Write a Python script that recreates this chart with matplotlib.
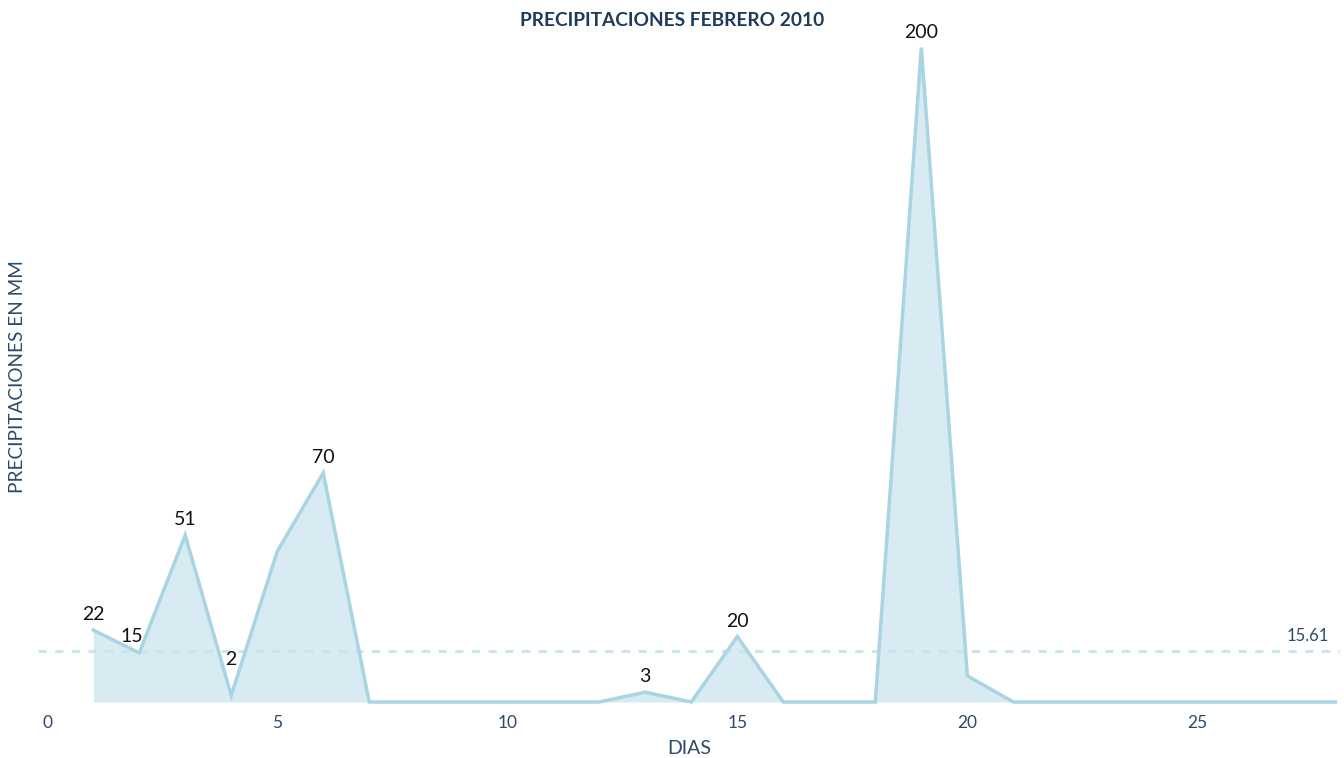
import matplotlib
matplotlib.use("Agg")
import matplotlib.pyplot as plt
import numpy as np

# Daily rainfall, February 2010 (mm)
dias = list(range(1, 29))
precipitaciones = [22, 15, 51, 2, 46, 70, 0, 0, 0, 0, 0, 0, 3, 0, 20, 0, 0, 0,
                   200, 8, 0, 0, 0, 0, 0, 0, 0, 0]
etiquetados = [1, 2, 3, 4, 6, 13, 15, 19]   # days whose value is written
xticks = [0, 5, 10, 15, 20, 25]

promedio = float(np.mean(precipitaciones))

plt.rcParams['font.family'] = ['Lato', 'DejaVu Sans']

LINE = '#a9d4e1'
FILL = '#d9ebf2'
MEAN = '#c8e4ed'
NAVY = '#1f3b5c'
TICK = '#2d4a6a'

fig = plt.figure(figsize=(13.44, 7.58), dpi=100)
W, H = 1344, 758
left, right, top, bottom = 38, 1340, 41, 702
ax = fig.add_axes([left / W, 1 - bottom / H, (right - left) / W, (bottom - top) / H])

ax.fill_between(dias, precipitaciones, 0, color=FILL, lw=0, zorder=1)
ax.plot(dias, precipitaciones, color=LINE, lw=2.5, solid_joinstyle='miter',
        clip_on=False, zorder=3)
ax.axhline(promedio, color=MEAN, lw=2, ls=(0, (3, 3)), zorder=2)
ax.text(27.85, promedio + 2.0, f"{promedio:.2f}", ha='right', va='bottom',
        fontsize=12, color=TICK)

offsets = {2: (-5, 6), 4: (0, 20)}
for d in etiquetados:
    v = precipitaciones[d - 1]
    dx, dy = offsets.get(d, (0, 5))
    ax.annotate(f"{v}", (d, v), xytext=(dx, dy), textcoords='offset points',
                ha='center', va='bottom', fontsize=14, color='#111111', zorder=4)

ax.set_xlim(-0.2, 28.1)
ax.set_ylim(0, 202)
ax.set_xticks(xticks)
ax.set_yticks([])
ax.tick_params(axis='x', length=0, pad=9, labelsize=12.5, labelcolor=TICK)
for s in ax.spines.values():
    s.set_visible(False)

ax.set_xlabel("DIAS", fontsize=14, color=TICK, labelpad=7)
fig.text(18 / W, 1 - 377 / H, "PRECIPITACIONES EN MM", rotation=90,
         ha='center', va='center', fontsize=13.7, color=TICK)
fig.text(0.5, 1 - 20 / H, "PRECIPITACIONES FEBRERO 2010", ha='center',
         va='center', fontsize=13.8, fontweight='bold', color=NAVY)

fig.savefig("out.png", dpi=100, facecolor='white')
